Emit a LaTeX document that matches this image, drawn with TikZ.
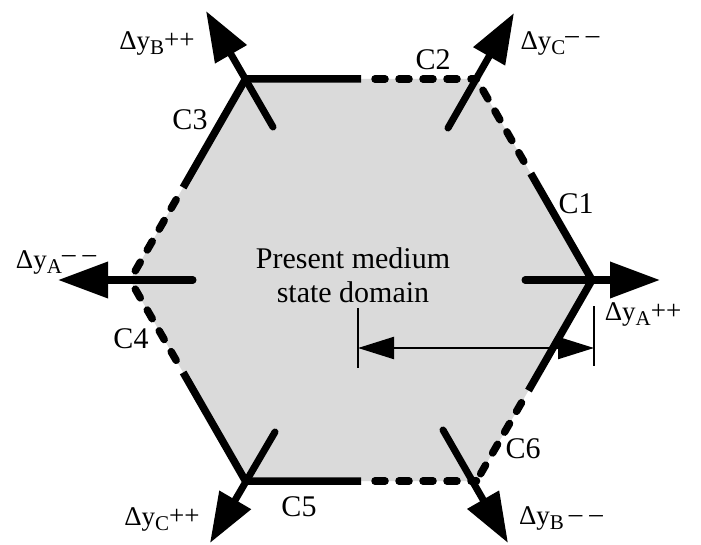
\documentclass[tikz,border=0pt]{standalone}
\usepackage{fontspec}
\setmainfont{Liberation Serif}
\usetikzlibrary{arrows.meta,calc}
\definecolor{hexfill}{RGB}{218,218,218}
\newcommand\dlab[3]{Δy\raisebox{-5pt}{\fontsize{21}{21}\selectfont #1}\raisebox{#3}{#2}}
\newcommand\mm{–\hspace{7pt}–}
\begin{document}
\begin{tikzpicture}[x=1pt,y=-1pt,
  edge/.style={line width=7.5pt, line join=miter},
  dashedge/.style={line width=7.5pt, line cap=round, dash pattern=on 10pt off 14pt, dash phase=10pt},
  bigarrow/.style={line width=7pt, line cap=round, -{Triangle[length=50pt,width=35pt]}},
  dimline/.style={line width=2.2pt, {Triangle[length=36pt,width=22pt]}-{Triangle[length=36pt,width=22pt]}},
  tick/.style={line width=2.2pt},
  lab/.style={font=\fontsize{30}{34}\selectfont},
  dlabel/.style={font=\fontsize{27}{30}\selectfont, inner sep=0pt}]
\useasboundingbox (0,0) rectangle (701,545);
% vertices
\coordinate (R) at (592,280);
\coordinate (TR) at (476.5,79);
\coordinate (TL) at (245.5,79);
\coordinate (L) at (130,280);
\coordinate (BL) at (245.5,481);
\coordinate (BR) at (476.5,481);
% split points
\coordinate (P1) at ($(TR)!0.47!(R)$);
\coordinate (P2) at ($(TR)!0.5!(TL)$);
\coordinate (P3) at ($(L)!0.46!(TL)$);
\coordinate (P4) at ($(L)!0.46!(BL)$);
\coordinate (P5) at ($(BR)!0.5!(BL)$);
\coordinate (P6) at ($(BR)!0.45!(R)$);
% fill
\fill[hexfill] (R) -- (TR) -- (TL) -- (L) -- (BL) -- (BR) -- cycle;
% solid halves
\draw[edge] (P3) -- (TL) -- (P2);
\draw[edge] (P4) -- (BL) -- (P5);
\draw[edge] (P1) -- (R) -- (P6);
% dashed halves
\draw[dashedge] (P2) -- (TR);
\draw[dashedge] (P1) -- (TR);
\draw[dashedge] (P3) -- (L);
\draw[dashedge] (P4) -- (L);
\draw[dashedge] (P5) -- (BR);
\draw[dashedge] (P6) -- (BR);
% arrows
\coordinate (aRs) at (525,280);   \coordinate (aRt) at (660,280);
\coordinate (aLs) at (193,280);   \coordinate (aLt) at (58,280);
\coordinate (aTLs) at (273,127);  \coordinate (aTLt) at (206,11);
\coordinate (aTRs) at (448,128);  \coordinate (aTRt) at (514,13);
\coordinate (aBLs) at (275,432);  \coordinate (aBLt) at (210,543);
\coordinate (aBRs) at (443,430);  \coordinate (aBRt) at (508,543);
\draw[bigarrow] (aRs) -- (aRt);
\draw[bigarrow] (aLs) -- (aLt);
\draw[bigarrow] (aTLs) -- (aTLt);
\draw[bigarrow] (aTRs) -- (aTRt);
\draw[bigarrow] (aBLs) -- (aBLt);
\draw[bigarrow] (aBRs) -- (aBRt);
% dimension
\coordinate (k1a) at (358,308); \coordinate (k1b) at (358,368);
\coordinate (k2a) at (594,306); \coordinate (k2b) at (594,366);
\coordinate (d1) at (358,348); \coordinate (d2) at (594,348);
\draw[tick] (k1a) -- (k1b);
\draw[tick] (k2a) -- (k2b);
\draw[dimline] (d1) -- (d2);
% texts
\node[lab, align=center] (dom) at (353,275) {Present medium\\state domain};
\node[lab] (c1) at (576,204) {C1};
\node[lab] (c2) at (433,60) {C2};
\node[lab] (c3) at (190,120) {C3};
\node[lab] (c4) at (131,339) {C4};
\node[lab] (c5) at (299,507) {C5};
\node[lab] (c6) at (523,449) {C6};
\node[dlabel] (lb1) at (157,44) {\dlab{B}{++}{1pt}};
\node[dlabel] (lc1) at (560,44) {\dlab{C}{\mm}{6pt}};
\node[dlabel] (la1) at (56,263) {\dlab{A}{\mm}{6pt}};
\node[dlabel] (la2) at (643,315) {\dlab{A}{++}{1pt}};
\node[dlabel] (lc2) at (162,519) {\dlab{C}{++}{1pt}};
\node[dlabel] (lb2) at (561,518) {\dlab{B}{\hspace{5pt}\mm}{2pt}};
\end{tikzpicture}
\end{document}
